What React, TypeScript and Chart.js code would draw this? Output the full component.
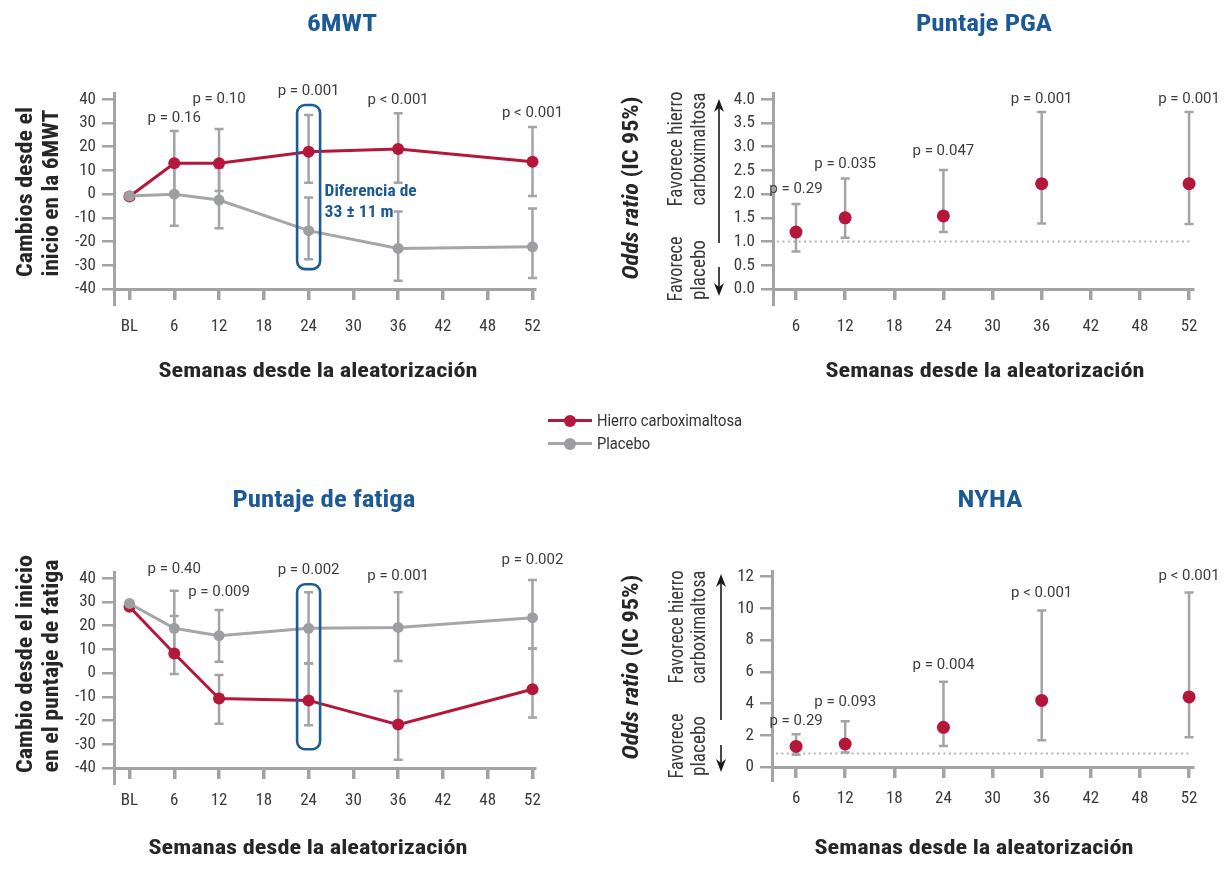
import React, { useEffect, useRef } from 'react';
import { Chart, registerables } from 'chart.js';

Chart.register(...registerables);

// ---------------- data ----------------
const weekLabels = ['BL', '6', '12', '18', '24', '30', '36', '42', '48', '52'];
const orWeekLabels = ['6', '12', '18', '24', '30', '36', '42', '48', '52'];
const legendLabels = ['Hierro carboximaltosa', 'Placebo'];
const xAxisTitle = 'Semanas desde la aleatorización';

// 6MWT (change from baseline, m)
const mwtWeeks = ['BL', '6', '12', '24', '36', '52'];
const mwtFcm = [-1, 13, 13, 17.9, 19, 13.7];
const mwtFcmLow = [null, -0.5, 1.3, 4.8, 4.8, -0.8];
const mwtFcmHigh = [null, 26.6, 27.5, 33.4, 34.1, 28.3];
const mwtPbo = [-0.8, 0, -2.5, -15.4, -22.9, -22.2];
const mwtPboLow = [null, -13.3, -14.4, -27.5, -36.5, -35.4];
const mwtPboHigh = [null, 12.5, 11, -1.4, -7.3, -6.1];
const mwtPWeeks = ['6', '12', '24', '36', '52'];
const mwtPText = ['p = 0.16', 'p = 0.10', 'p = 0.001', 'p < 0.001', 'p < 0.001'];
const mwtYTicks = [-40, -30, -20, -10, 0, 10, 20, 30, 40];

// Fatigue score (change from baseline)
const fatWeeks = ['BL', '6', '12', '24', '36', '52'];
const fatFcm = [28, 8.3, -10.7, -11.5, -21.7, -6.8];
const fatFcmLow = [null, -0.4, -21.3, -22, -36.5, -18.7];
const fatFcmHigh = [null, 24.1, -0.8, 4.1, -7.5, 10.4];
const fatPbo = [29.4, 18.9, 15.8, 18.9, 19.3, 23.4];
const fatPboLow = [null, 8.5, 4.8, 4.1, 5.1, 10.4];
const fatPboHigh = [null, 34.8, 26.6, 34.1, 34.1, 39.3];
const fatPWeeks = ['6', '12', '24', '36', '52'];
const fatPText = ['p = 0.40', 'p = 0.009', 'p = 0.002', 'p = 0.001', 'p = 0.002'];
const fatYTicks = [-40, -30, -20, -10, 0, 10, 20, 30, 40];

// PGA score odds ratios
const pgaWeeks = ['6', '12', '24', '36', '52'];
const pgaOr = [1.2, 1.5, 1.54, 2.22, 2.22];
const pgaLow = [0.79, 1.08, 1.2, 1.38, 1.37];
const pgaHigh = [1.79, 2.33, 2.51, 3.73, 3.73];
const pgaPText = ['p = 0.29', 'p = 0.035', 'p = 0.047', 'p = 0.001', 'p = 0.001'];
const pgaYTicks = [0, 0.5, 1, 1.5, 2, 2.5, 3, 3.5, 4];
const pgaRef = 1.0;

// NYHA odds ratios
const nyhaWeeks = ['6', '12', '24', '36', '52'];
const nyhaOr = [1.3, 1.45, 2.5, 4.2, 4.42];
const nyhaLow = [0.78, 0.91, 1.33, 1.68, 1.87];
const nyhaHigh = [2.06, 2.88, 5.37, 9.87, 11.01];
const nyhaPText = ['p = 0.29', 'p = 0.093', 'p = 0.004', 'p < 0.001', 'p < 0.001'];
const nyhaYTicks = [0, 2, 4, 6, 8, 10, 12];
const nyhaRef = 0.85;

// ---------------- annotation anchors (y in axis units) ----------------
const mwtPAt = [32.1, 40.1, 43.6, 39.7, 34.3];
const fatPAt = [43.9, 34.1, 43.5, 40.7, 47.7];
const pgaPAt = [2.11, 2.64, 2.9, 4.0, 4.0];
const nyhaPAt = [2.89, 4.07, 6.42, 10.95, 12.0];

// ---------------- styles ----------------
const RED = '#b5173b';
const GRAY_PT = '#9d9ea1';
const GRAY_LINE = '#a5a6a9';
const ERR = '#a3a4a7';
const AXIS = '#a3a3a3';
const BLUE = '#1b5a96';
const TXT = '#262626';
const TICK_TXT = '#3a3a3a';
const SANS = "Roboto, 'Liberation Sans', sans-serif";
const COND = "'Roboto Condensed', 'Liberation Sans Narrow', 'DejaVu Sans Condensed', Roboto, sans-serif";

const fnt = (size: number, weight = 'normal', style = 'normal', fam = COND) => `${style} ${weight} ${size}px ${fam}`;

type Part = { t: string; font: string };
type Txt = { parts: Part[]; x: number; y: number; rot?: boolean; fit?: number; color: string; align?: 'left' | 'center' };

function drawText(ctx: CanvasRenderingContext2D, t: Txt, ox: number, oy: number) {
  ctx.save();
  ctx.translate(t.x - ox, t.y - oy);
  if (t.rot) ctx.rotate(-Math.PI / 2);
  const widths = t.parts.map((p) => {
    ctx.font = p.font;
    return ctx.measureText(p.t).width;
  });
  const total = widths.reduce((s, w) => s + w, 0);
  if (t.fit) ctx.scale(t.fit / total, 1);
  let cx = t.align === 'left' ? 0 : -total / 2;
  ctx.fillStyle = t.color;
  ctx.textBaseline = 'middle';
  ctx.textAlign = 'left';
  t.parts.forEach((p, i) => {
    ctx.font = p.font;
    ctx.fillText(p.t, cx, 0);
    cx += widths[i];
  });
  ctx.restore();
}

function drawArrow(ctx: CanvasRenderingContext2D, x: number, y1: number, y2: number) {
  const dir = y2 < y1 ? -1 : 1;
  ctx.save();
  ctx.strokeStyle = '#1a1a1a';
  ctx.fillStyle = '#1a1a1a';
  ctx.lineWidth = 1.6;
  ctx.beginPath();
  ctx.moveTo(x, y1);
  ctx.lineTo(x, y2 - dir * 8);
  ctx.stroke();
  ctx.beginPath();
  ctx.moveTo(x, y2);
  ctx.lineTo(x - 5, y2 - dir * 13);
  ctx.lineTo(x, y2 - dir * 9);
  ctx.lineTo(x + 5, y2 - dir * 13);
  ctx.closePath();
  ctx.fill();
  ctx.restore();
}

const title = (t: string, x: number, y: number, fit: number): Txt => ({
  parts: [{ t, font: fnt(24, 'bold') }], x, y, fit, color: BLUE,
});
const xTitle = (x: number, y: number): Txt => ({
  parts: [{ t: xAxisTitle, font: fnt(21, 'bold') }], x, y, fit: 319, color: TXT,
});
const yLine = (t: string, x: number, y: number, fit: number): Txt => ({
  parts: [{ t, font: fnt(22, 'bold') }], x, y, fit, rot: true, color: TXT,
});
const oddsTitle = (x: number, y: number, fit: number): Txt => ({
  parts: [
    { t: 'Odds ratio', font: fnt(22, 'bold', 'italic') },
    { t: ' (IC 95%)', font: fnt(22, 'bold') },
  ],
  x, y, fit, rot: true, color: TXT,
});
const fav = (t: string, x: number, y: number, fit: number): Txt => ({
  parts: [{ t, font: fnt(20, 'normal') }], x, y, fit, rot: true, color: '#383838',
});

type Series = { weeks: string[]; vals: number[]; low?: (number | null)[]; high?: (number | null)[]; color: string; lineColor: string; radius: number; line: boolean };

type PanelCfg = {
  left: number; top: number; w: number; h: number;
  area: { left: number; top: number; right: number; bottom: number };
  xLabels: string[]; xMin: number; xMax: number;
  yMin: number; yMax: number; yTicks: number[]; yFmt: (v: number) => string;
  xLabelPad: number; yExt: number;
  series: Series[];
  refLine?: number;
  pWeeks: string[]; pText: string[]; pAt: number[];
  box?: { week: string; top: number; bottom: number };
  boxNote?: { lines: string[]; at: number[] };
  texts: Txt[];
  arrows: { x: number; y1: number; y2: number }[];
};

function makeDecor(cfg: PanelCfg) {
  return {
    id: 'decor',
    beforeDatasetsDraw(chart: any) {
      const { ctx, chartArea: a } = chart;
      const xs = chart.scales.x;
      const ys = chart.scales.y;
      ctx.save();
      if (cfg.refLine != null) {
        const py = ys.getPixelForValue(cfg.refLine);
        ctx.setLineDash([2, 3.4]);
        ctx.strokeStyle = '#b5b5b5';
        ctx.lineWidth = 2;
        ctx.beginPath();
        ctx.moveTo(a.left + 4, py);
        ctx.lineTo(a.right - 2, py);
        ctx.stroke();
        ctx.setLineDash([]);
      }
      ctx.strokeStyle = ERR;
      ctx.lineWidth = 2.5;
      cfg.series.forEach((s) => {
        if (!s.low || !s.high) return;
        s.weeks.forEach((w, i) => {
          const lo = s.low![i];
          const hi = s.high![i];
          if (lo == null || hi == null) return;
          const px = xs.getPixelForValue(cfg.xLabels.indexOf(w));
          const p1 = ys.getPixelForValue(lo);
          const p2 = ys.getPixelForValue(hi);
          ctx.beginPath();
          ctx.moveTo(px, p1);
          ctx.lineTo(px, p2);
          ctx.moveTo(px - 4.5, p1);
          ctx.lineTo(px + 4.5, p1);
          ctx.moveTo(px - 4.5, p2);
          ctx.lineTo(px + 4.5, p2);
          ctx.stroke();
        });
      });
      ctx.restore();
    },
    afterDraw(chart: any) {
      const { ctx, chartArea: a } = chart;
      const xs = chart.scales.x;
      const ys = chart.scales.y;
      ctx.save();
      // y axis continues a little below the x axis
      const ax = Math.round(a.left - 1.5) + 1.5;
      ctx.strokeStyle = AXIS;
      ctx.lineWidth = 3;
      ctx.beginPath();
      ctx.moveTo(ax, a.bottom);
      ctx.lineTo(ax, a.bottom + cfg.yExt);
      ctx.stroke();
      // highlight box
      if (cfg.box) {
        const bx = xs.getPixelForValue(cfg.xLabels.indexOf(cfg.box.week));
        const t = ys.getPixelForValue(cfg.box.top);
        const b = ys.getPixelForValue(cfg.box.bottom);
        ctx.strokeStyle = '#1d5c97';
        ctx.lineWidth = 2.6;
        ctx.beginPath();
        (ctx as any).roundRect(bx - 11.5, t, 23, b - t, 8);
        ctx.stroke();
        if (cfg.boxNote) {
          cfg.boxNote.lines.forEach((ln, i) => {
            drawText(ctx, {
              parts: [{ t: ln, font: fnt(16, 'bold') }],
              x: bx + 16, y: ys.getPixelForValue(cfg.boxNote!.at[i]),
              align: 'left', color: BLUE, fit: i === 0 ? 92 : 69,
            }, 0, 0);
          });
        }
      }
      // p values
      ctx.fillStyle = '#3c3c3c';
      ctx.font = fnt(15, 'normal', 'normal', SANS);
      ctx.textAlign = 'center';
      ctx.textBaseline = 'middle';
      cfg.pWeeks.forEach((w, i) => {
        const px = xs.getPixelForValue(cfg.xLabels.indexOf(w));
        ctx.fillText(cfg.pText[i], px, ys.getPixelForValue(cfg.pAt[i]));
      });
      ctx.restore();
      cfg.texts.forEach((t) => drawText(ctx, t, cfg.left, cfg.top));
      cfg.arrows.forEach((ar) => drawArrow(ctx, ar.x - cfg.left, ar.y1 - cfg.top, ar.y2 - cfg.top));
    },
  };
}

function Panel({ cfg }: { cfg: PanelCfg }) {
  const ref = useRef<HTMLCanvasElement>(null);
  useEffect(() => {
    const canvas = ref.current!;
    const a = cfg.area;
    const chart = new Chart(canvas, {
      type: 'line',
      data: {
        datasets: cfg.series.map((s) => ({
          data: s.weeks.map((w, i) => ({ x: cfg.xLabels.indexOf(w), y: s.vals[i] })),
          borderColor: s.lineColor,
          backgroundColor: s.color,
          borderWidth: 3,
          pointRadius: s.radius,
          pointBackgroundColor: s.color,
          pointBorderColor: s.color,
          pointBorderWidth: 0,
          showLine: s.line,
          tension: 0,
          clip: false,
        })),
      },
      options: {
        responsive: false,
        animation: false,
        events: [],
        layout: { padding: { left: 0, top: a.top, right: cfg.w - a.right, bottom: 0 } },
        plugins: { legend: { display: false }, tooltip: { enabled: false }, title: { display: false } },
        scales: {
          x: {
            type: 'linear',
            position: 'bottom',
            min: cfg.xMin,
            max: cfg.xMax,
            afterBuildTicks: (s: any) => {
              s.ticks = cfg.xLabels.map((_, i) => ({ value: i }));
            },
            afterFit: (s: any) => {
              s.height = cfg.h - a.bottom;
            },
            ticks: {
              autoSkip: false,
              maxRotation: 0,
              padding: cfg.xLabelPad,
              color: TICK_TXT,
              font: { family: COND, size: 17 },
              callback: (v: any) => cfg.xLabels[Math.round(Number(v))],
            },
            grid: { display: true, drawOnChartArea: false, drawTicks: true, tickLength: 11, color: AXIS, lineWidth: 3.5 },
            border: { display: true, color: AXIS, width: 3 },
          },
          y: {
            type: 'linear',
            min: cfg.yMin,
            max: cfg.yMax,
            afterBuildTicks: (s: any) => {
              s.ticks = cfg.yTicks.map((v) => ({ value: v }));
            },
            afterFit: (s: any) => {
              s.width = a.left;
            },
            ticks: {
              padding: 6,
              color: TICK_TXT,
              font: { family: COND, size: 17 },
              callback: (v: any) => cfg.yFmt(Number(v)),
            },
            grid: { display: true, drawOnChartArea: false, drawTicks: true, tickLength: 12, color: AXIS, lineWidth: 2.5 },
            border: { display: true, color: AXIS, width: 3 },
          },
        },
      },
      plugins: [makeDecor(cfg)],
    } as any);
    return () => chart.destroy();
  }, [cfg]);
  return (
    <canvas
      ref={ref}
      width={cfg.w}
      height={cfg.h}
      style={{ position: 'absolute', left: cfg.left, top: cfg.top, width: cfg.w, height: cfg.h }}
    />
  );
}

// ---------------- panel layouts ----------------
const panelMWT: PanelCfg = {
  left: 0, top: 0, w: 600, h: 450,
  area: { left: 114, top: 93, right: 535, bottom: 289 },
  xLabels: weekLabels, xMin: -0.346, xMax: 9.056,
  yMin: -40, yMax: 42.66, yTicks: mwtYTicks, yFmt: (v) => String(v),
  xLabelPad: 17, yExt: 17,
  series: [
    { weeks: mwtWeeks, vals: mwtPbo, low: mwtPboLow, high: mwtPboHigh, color: GRAY_PT, lineColor: GRAY_LINE, radius: 5.5, line: true },
    { weeks: mwtWeeks, vals: mwtFcm, low: mwtFcmLow, high: mwtFcmHigh, color: RED, lineColor: RED, radius: 6, line: true },
  ],
  pWeeks: mwtPWeeks, pText: mwtPText, pAt: mwtPAt,
  box: { week: '24', top: 37.6, bottom: -31.6 },
  boxNote: { lines: ['Diferencia de', '33 ± 11 m'], at: [0.9, -8] },
  texts: [
    title('6MWT', 342, 25, 70),
    yLine('Cambios desde el', 26, 192, 170),
    yLine('inicio en la 6MWT', 52, 193, 167),
    xTitle(318, 372),
  ],
  arrows: [],
};

const panelPGA: PanelCfg = {
  left: 600, top: 0, w: 629, h: 450,
  area: { left: 173, top: 93, right: 593, bottom: 289 },
  xLabels: orWeekLabels, xMin: -0.468, xMax: 8.08,
  yMin: 0, yMax: 4.133, yTicks: pgaYTicks, yFmt: (v) => v.toFixed(1),
  xLabelPad: 17, yExt: 17,
  series: [
    { weeks: pgaWeeks, vals: pgaOr, low: pgaLow, high: pgaHigh, color: RED, lineColor: RED, radius: 6.5, line: false },
  ],
  refLine: pgaRef,
  pWeeks: pgaWeeks, pText: pgaPText, pAt: pgaPAt,
  texts: [
    title('Puntaje PGA', 984, 25, 136),
    oddsTitle(632, 188, 183),
    fav('Favorece hierro', 677, 149, 115),
    fav('carboximaltosa', 700, 149, 113),
    fav('Favorece', 677, 269, 65),
    fav('placebo', 700, 270, 60),
    xTitle(985, 372),
  ],
  arrows: [
    { x: 719, y1: 243, y2: 99 },
    { x: 719, y1: 267, y2: 296 },
  ],
};

const panelFat: PanelCfg = {
  left: 0, top: 450, w: 600, h: 434,
  area: { left: 114, top: 122, right: 535, bottom: 318 },
  xLabels: weekLabels, xMin: -0.346, xMax: 9.056,
  yMin: -40, yMax: 42.66, yTicks: fatYTicks, yFmt: (v) => String(v),
  xLabelPad: 12, yExt: 17,
  series: [
    { weeks: fatWeeks, vals: fatPbo, low: fatPboLow, high: fatPboHigh, color: GRAY_PT, lineColor: GRAY_LINE, radius: 5.5, line: true },
    { weeks: fatWeeks, vals: fatFcm, low: fatFcmLow, high: fatFcmHigh, color: RED, lineColor: RED, radius: 6, line: true },
  ],
  pWeeks: fatPWeeks, pText: fatPText, pAt: fatPAt,
  box: { week: '24', top: 37.5, bottom: -32.1 },
  texts: [
    title('Puntaje de fatiga', 324, 501, 183),
    yLine('Cambio desde el inicio', 26, 664, 218),
    yLine('en el puntaje de fatiga', 52, 666, 213),
    xTitle(308, 849),
  ],
  arrows: [],
};

const panelNYHA: PanelCfg = {
  left: 600, top: 450, w: 629, h: 434,
  area: { left: 172, top: 121, right: 593, bottom: 317 },
  xLabels: orWeekLabels, xMin: -0.49, xMax: 8.08,
  yMin: 0, yMax: 12.36, yTicks: nyhaYTicks, yFmt: (v) => String(v),
  xLabelPad: 11, yExt: 15,
  series: [
    { weeks: nyhaWeeks, vals: nyhaOr, low: nyhaLow, high: nyhaHigh, color: RED, lineColor: RED, radius: 6.5, line: false },
  ],
  refLine: nyhaRef,
  pWeeks: nyhaWeeks, pText: nyhaPText, pAt: nyhaPAt,
  texts: [
    title('NYHA', 990, 501, 65),
    oddsTitle(632, 667, 185),
    fav('Favorece hierro', 678, 627, 113),
    fav('carboximaltosa', 700, 627, 113),
    fav('Favorece', 678, 746, 65),
    fav('placebo', 700, 746, 60),
    xTitle(974, 849),
  ],
  arrows: [
    { x: 721, y1: 720, y2: 574 },
    { x: 721, y1: 745, y2: 772 },
  ],
};

function Legend() {
  const rows = [
    { c: RED, lc: RED, t: legendLabels[0] },
    { c: GRAY_PT, lc: GRAY_LINE, t: legendLabels[1] },
  ];
  return (
    <div style={{ position: 'absolute', left: 548, top: 409, fontFamily: SANS, fontSize: 16, color: '#333' }}>
      {rows.map((r) => (
        <div key={r.t} style={{ display: 'flex', alignItems: 'center', height: 23 }}>
          <div style={{ position: 'relative', width: 44, height: 12, marginRight: 5 }}>
            <div style={{ position: 'absolute', left: 0, top: 4.5, width: 44, height: 3, background: r.lc }} />
            <div style={{ position: 'absolute', left: 16, top: 0, width: 12, height: 12, borderRadius: 6, background: r.c }} />
          </div>
          <span style={{ display: 'inline-block', whiteSpace: 'nowrap', transform: 'scaleX(0.92)', transformOrigin: 'left center' }}>{r.t}</span>
        </div>
      ))}
    </div>
  );
}

export default function App() {
  return (
    <div style={{ position: 'absolute', left: 0, top: 0, width: 1229, height: 884, background: '#ffffff', overflow: 'hidden' }}>
      <Panel cfg={panelMWT} />
      <Panel cfg={panelPGA} />
      <Panel cfg={panelFat} />
      <Panel cfg={panelNYHA} />
      <Legend />
    </div>
  );
}
